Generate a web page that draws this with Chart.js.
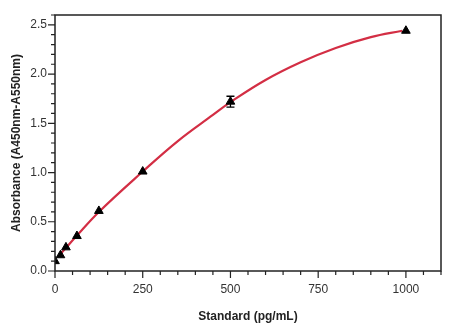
<!DOCTYPE html>
<html>
<head>
<meta charset="utf-8">
<script src="https://cdn.jsdelivr.net/npm/chart.js@4"></script>
<style>
  html, body { margin: 0; padding: 0; background: #fff; }
  #myChart { display: block; }
</style>
</head>
<body>
<canvas id="myChart" width="455" height="330"></canvas>
<script>
// standard curve: measured points
const standards = [0, 15.6, 31.25, 62.5, 125, 250, 500, 1000];
const absorbance = [0.10, 0.16, 0.24, 0.355, 0.61, 1.01, 1.72, 2.44];
const errBars = [0, 0, 0, 0, 0, 0, 0.055, 0];

// fitted curve
const fitX = [15, 30, 60, 125, 250, 350, 450, 500, 600, 700, 800, 900, 990];
const fitY = [0.17, 0.23, 0.35, 0.60, 1.01, 1.32, 1.585, 1.715, 1.94, 2.12, 2.265, 2.375, 2.44];

// axis ticks
const xMajor = [0, 250, 500, 750, 1000];
const yMajor = [0, 0.5, 1.0, 1.5, 2.0, 2.5];

const FONT = "'Liberation Sans', Arial, sans-serif";

const isMajor = (v, list) => list.some(m => Math.abs(m - v) < 1e-6);

// frame, tick marks and error bars
const extras = {
	id: 'extras',
	afterDatasetsDraw(chart) {
		const ctx = chart.ctx;
		const a = chart.chartArea;
		const xs = chart.scales.x, ys = chart.scales.y;
		ctx.save();
		ctx.strokeStyle = '#222';
		ctx.lineWidth = 1.5;
		ctx.strokeRect(a.left, a.top, a.right - a.left, a.bottom - a.top);

		ctx.lineWidth = 1.2;
		ctx.beginPath();
		for (let v = 0; v <= 1100 + 1e-6; v += 50) {
			const px = xs.getPixelForValue(v);
			const len = isMajor(v, xMajor) ? 7 : 4;
			ctx.moveTo(px, a.bottom);
			ctx.lineTo(px, a.bottom + len);
		}
		for (let i = 0; i <= 26; i++) {
			const v = i / 10;
			const py = ys.getPixelForValue(v);
			const len = isMajor(v, yMajor) ? 7 : 4;
			ctx.moveTo(a.left, py);
			ctx.lineTo(a.left - len, py);
		}
		ctx.stroke();

		// error bars
		ctx.lineWidth = 1.3;
		ctx.strokeStyle = '#000';
		ctx.beginPath();
		standards.forEach((x, i) => {
			if (!errBars[i]) return;
			const px = xs.getPixelForValue(x);
			const top = ys.getPixelForValue(absorbance[i] + errBars[i]);
			const bot = ys.getPixelForValue(absorbance[i] - errBars[i]);
			ctx.moveTo(px, top); ctx.lineTo(px, bot);
			ctx.moveTo(px - 4, top); ctx.lineTo(px + 4, top);
			ctx.moveTo(px - 4, bot); ctx.lineTo(px + 4, bot);
		});
		ctx.stroke();
		ctx.restore();
	}
};

new Chart(
	document.getElementById('myChart'),
	{
		type: 'scatter',
		data: {
			datasets: [
				{
					label: 'Standard',
					data: standards.map((x, i) => ({ x: x, y: absorbance[i] })),
					pointStyle: 'triangle',
					pointRadius: 5,
					backgroundColor: '#000',
					borderColor: '#000',
					borderWidth: 1,
					order: 0
				},
				{
					label: 'Fit',
					type: 'line',
					data: fitX.map((x, i) => ({ x: x, y: fitY[i] })),
					borderColor: 'rgb(211, 46, 68)',
					borderWidth: 2.2,
					pointRadius: 0,
					fill: false,
					tension: 0.4,
					order: 1
				}
			]
		},
		options: {
			responsive: false,
			animation: false,
			layout: { padding: { left: 9, top: 15, right: 14, bottom: 6 } },
			plugins: {
				legend: { display: false },
				tooltip: { enabled: false }
			},
			scales: {
				x: {
					type: 'linear',
					min: 0,
					max: 1100,
					afterFit: s => { s.height = 53; },
					border: { display: false },
					grid: { drawOnChartArea: false, tickLength: 7, tickColor: 'rgba(0,0,0,0)' },
					afterBuildTicks: s => { s.ticks = xMajor.map(v => ({ value: v })); },
					ticks: {
						padding: 4,
						color: '#333',
						font: { family: FONT, size: 12 },
						maxRotation: 0,
						callback: v => String(v)
					},
					title: {
						display: true,
						text: 'Standard (pg/mL)',
						color: '#222',
						font: { family: FONT, size: 12, weight: 'bold' },
						padding: { top: 6, bottom: 0 }
					}
				},
				y: {
					type: 'linear',
					min: 0,
					max: 2.6,
					afterFit: s => { s.width = 46; },
					border: { display: false },
					grid: { drawOnChartArea: false, tickLength: 7, tickColor: 'rgba(0,0,0,0)' },
					afterBuildTicks: s => { s.ticks = yMajor.map(v => ({ value: v })); },
					ticks: {
						padding: 1,
						color: '#333',
						font: { family: FONT, size: 12 },
						callback: v => v.toFixed(1)
					},
					title: {
						display: true,
						text: 'Absorbance (A450nm-A550nm)',
						color: '#222',
						font: { family: FONT, size: 12, weight: 'bold' },
						padding: { top: 0, bottom: 4 }
					}
				}
			}
		},
		plugins: [extras]
	}
);
</script>
</body>
</html>
